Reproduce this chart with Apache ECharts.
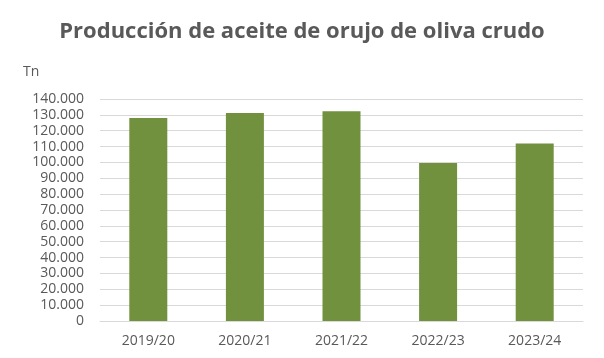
<!DOCTYPE html>
<html><head><meta charset="utf-8">
<script src="https://cdn.jsdelivr.net/npm/echarts@6/dist/echarts.min.js"></script>
<style>html,body{margin:0;padding:0;background:#fff}#c{width:604px;height:358px}</style>
</head><body><div id="c"></div>
<script>
const categories = ['2019/20','2020/21','2021/22','2022/23','2023/24'];
const values = [128000, 131200, 132300, 99600, 112000];
const yTicks = [0,10000,20000,30000,40000,50000,60000,70000,80000,90000,100000,110000,120000,130000,140000];
const titleText = 'Producción de aceite de orujo de oliva crudo';
const unitText = 'Tn';

function fmt(v){ return String(v).replace(/\B(?=(\d{3})+(?!\d))/g,'.'); }

const chart = echarts.init(document.getElementById('c'));
chart.setOption({
  backgroundColor:'#fff',
  animation:false,
  title:{text:titleText,left:'center',top:16,textStyle:{fontFamily:'Open Sans',fontWeight:'bold',fontSize:22,color:'#595959'}},
  graphic:[{type:'text',left:23,top:65,style:{text:unitText,fontFamily:'Open Sans',fontSize:14,fill:'#595959'}}],
  grid:{left:100,right:21,top:99,bottom:37,containLabel:false},
  xAxis:{type:'category',data:categories,axisLine:{lineStyle:{color:'#d9d9d9'}},axisTick:{show:false},
    axisLabel:{color:'#595959',fontFamily:'Open Sans',fontSize:14,margin:13}},
  yAxis:{type:'value',min:0,max:yTicks[yTicks.length-1],interval:yTicks[1]-yTicks[0],
    axisLine:{show:false},axisTick:{show:false},
    splitLine:{lineStyle:{color:'#d9d9d9',width:1}},
    axisLabel:{color:'#595959',fontFamily:'Open Sans',fontSize:14,margin:16,formatter:fmt}},
  series:[{type:'bar',data:values,barWidth:38,itemStyle:{color:'#71913f'}}]
});
</script></body></html>
